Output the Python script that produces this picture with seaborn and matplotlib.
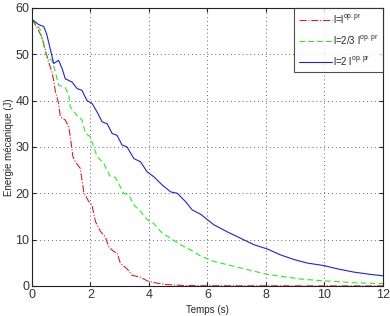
import matplotlib
matplotlib.use('Agg')
import matplotlib.pyplot as plt
import seaborn as sns
import pandas as pd

#------------------------------------------
# l = l^op.pr
t_1=[0, 0.17, 0.34, 0.46, 0.57, 0.68, 0.74, 0.8, 0.91, 0.97, 1.14, 1.26, 1.34, 1.4, 1.48,
     1.65, 1.77, 1.94, 2.05, 2.17, 2.34, 2.51, 2.62, 2.8, 2.91, 3.02, 3.25, 3.42, 3.71,
     3.94, 4.28, 4.62, 5.2, 6, 8, 10, 12]
e_1=[57.5, 55.8, 53.7, 50.8, 48.3, 46.2, 44.4, 41.9, 39.4, 36.5, 35.8, 34.3, 30.8, 27.9, 26.8,
     25.4, 20.3, 18.2, 17.5, 13.9, 11.8, 10.6, 8.5, 7.4, 7.2, 4.9, 3.7, 2.3, 1.9,
     1.1, 0.6, 0.3, 0.1, 0.05, 0.03, 0.02, 0.02]

# l = 2/3 l^op.pr
t_23=[0, 0.27, 0.36, 0.5, 0.68, 0.8, 0.91, 1.14, 1.26, 1.31, 1.54, 1.71, 1.83, 2.0, 2.11,
      2.23, 2.45, 2.68, 2.85, 3.02, 3.14, 3.31, 3.48, 3.71, 3.94, 4.16, 4.45, 4.74, 5.08,
      5.42, 5.76, 6.22, 6.67, 7.13, 7.59, 8.04, 8.61, 9.19, 9.76, 10.3, 11, 12]
e_23=[57.5, 55.5, 53, 49.4, 48.7, 46.2, 43.3, 42.8, 41.1, 38.6, 36.8, 35.8, 32.9, 32.2, 30,
      27.9, 26.5, 23.6, 23.4, 21.4, 20, 19.7, 17.5, 16.1, 14.3, 13.5, 11.4, 10.3, 8.9,
      7.8, 6.5, 5.3, 4.6, 3.9, 3.2, 2.5, 2.0, 1.5, 1.2, 1.0, 0.7, 0.5]

# l = 2 l^op.pr
t_2=[0, 0.23, 0.4, 0.5, 0.68, 0.74, 0.91, 1.03, 1.14, 1.37, 1.54, 1.71, 1.88, 2.05, 2.23,
     2.4, 2.57, 2.74, 2.91, 3.08, 3.25, 3.48, 3.71, 3.94, 4.16, 4.45, 4.74, 4.97, 5.25,
     5.48, 5.76, 6.22, 6.67, 7.13, 7.59, 8.04, 8.5, 8.96, 9.41, 9.98, 10.44, 11.0, 11.57, 12]
e_2=[57.5, 56.4, 56, 54.4, 49.7, 48, 48.7, 46.9, 44.7, 44, 42.6, 42.2, 40, 39.4, 37.5,
     35.4, 35, 32.9, 32.5, 30.4, 30, 27.5, 26.8, 24.6, 23.6, 21.8, 20.3, 20, 18.2,
     16.4, 15.5, 13.2, 11.7, 10.3, 8.9, 8, 6.7, 5.7, 4.95, 4.4, 3.7, 3.0, 2.5, 2.2]

labels=['l=l$^{\\mathrm{op.pr}}$', 'l=2/3 l$^{\\mathrm{op.pr}}$', 'l=2 l$^{\\mathrm{op.pr}}$']
colors=['#e02020', '#22ee22', '#2020e0']
styles=['-.', (0, (5, 3)), '-']

######################################################
sns.set_style('white')
plt.rcParams['font.family']=['Liberation Sans', 'DejaVu Sans']
plt.rcParams['mathtext.fontset']='custom'
plt.rcParams['mathtext.rm']='Liberation Sans'

fig=plt.figure(figsize=(3.9, 3.16), dpi=100)
ax=fig.add_axes([0.082, 0.095, 0.9, 0.88])

for t, e, lab, c, ls in zip([t_1, t_23, t_2], [e_1, e_23, e_2], labels, colors, styles):
    df=pd.DataFrame({'t': t, 'e': e})
    sns.lineplot(data=df, x='t', y='e', ax=ax, color=c, linestyle=ls, lw=0.8, label=lab)

#adjust
ax.set_xlim(0, 12)
ax.set_ylim(0, 60)
ax.set_xticks(range(0, 13, 2))
ax.set_yticks(range(0, 61, 10))
ax.grid(True, linestyle=(0, (1, 3)), color='#666666', lw=0.7)
for s in ax.spines.values():
    s.set_color('#222222')
    s.set_linewidth(0.8)
ax.tick_params(labelsize=9, labelcolor='#333333', direction='in', length=3, pad=2,
               left=True, bottom=True, top=True, right=True)
ax.set_xlabel('Temps (s)', fontsize=7, labelpad=3)
ax.set_ylabel('Energie mécanique (J)', fontsize=7, labelpad=1)

leg=ax.legend(loc='upper right', fontsize=7, frameon=True, fancybox=False, handlelength=3.4,
              borderaxespad=0.0, labelspacing=0.8, handletextpad=0.1, borderpad=0.5)
leg.get_frame().set_edgecolor('#222222')
leg.get_frame().set_linewidth(0.8)

#save
fig.savefig('out.png', dpi=100)
plt.close()
